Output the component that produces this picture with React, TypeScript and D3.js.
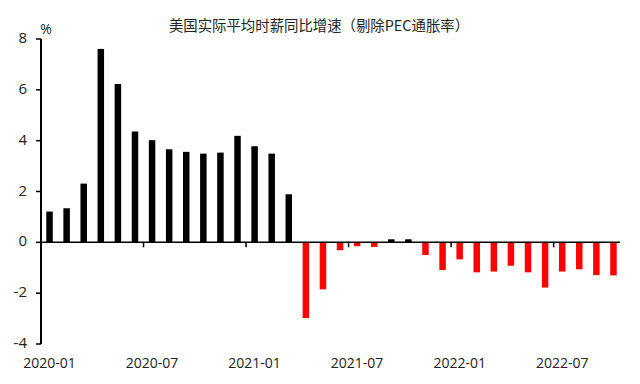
import React from "react";
import * as d3 from "d3";

const months: string[] = [
  "2020-01","2020-02","2020-03","2020-04","2020-05","2020-06","2020-07","2020-08","2020-09","2020-10","2020-11","2020-12",
  "2021-01","2021-02","2021-03","2021-04","2021-05","2021-06","2021-07","2021-08","2021-09","2021-10","2021-11","2021-12",
  "2022-01","2022-02","2022-03","2022-04","2022-05","2022-06","2022-07","2022-08","2022-09","2022-10",
];
const values: number[] = [
  1.21, 1.34, 2.31, 7.61, 6.23, 4.36, 4.02, 3.66, 3.56, 3.49, 3.53, 4.19,
  3.78, 3.49, 1.89, -2.98, -1.85, -0.31, -0.15, -0.18, 0.12, 0.12, -0.5, -1.09,
  -0.67, -1.18, -1.15, -0.92, -1.18, -1.78, -1.15, -1.06, -1.29, -1.3,
];
const xTickLabels: string[] = ["2020-01", "2020-07", "2021-01", "2021-07", "2022-01", "2022-07"];
const yTicks: number[] = [-4, -2, 0, 2, 4, 6, 8];
const title = "美国实际平均时薪同比增速（剔除PEC通胀率）";
const unit = "%";

const W = 640, H = 384;
const left = 41, right = 622, top = 39, bottom = 344;

export default function App() {
  const x = d3.scaleBand<string>().domain(months).range([left, right]).paddingInner(0.62).paddingOuter(0.31);
  const y = d3.scaleLinear().domain([-4, 8]).range([bottom, top]);
  const step = x.step();
  const bandStart = (m: string) => (x(m) as number) - (x.paddingInner() * step) / 2;
  const numFont = "'Open Sans', 'Noto Sans', sans-serif";
  return (
    <svg width={W} height={H} style={{ position: "absolute", left: 0, top: 0 }}>
      <rect width={W} height={H} fill="#fff" />
      <text x={319} y={27} textAnchor="middle" dominantBaseline="middle" fontFamily="'Noto Sans CJK SC', sans-serif" fontSize={14.4} fill="#222">{title}</text>
      <text x={46} y={30} textAnchor="middle" dominantBaseline="middle" fontFamily={numFont} fontSize={14} fill="#222">{unit}</text>
      {months.map((m, i) => {
        const v = values[i];
        const y0 = y(0), y1 = y(v);
        return (
          <rect key={m} x={x(m)} width={x.bandwidth()} y={Math.min(y0, y1)} height={Math.abs(y1 - y0)} fill={v >= 0 ? "#000" : "#ff0000"} />
        );
      })}
      <line x1={left} x2={left} y1={y(8)} y2={y(-4)} stroke="#000" strokeWidth={2} />
      {yTicks.map((t) => (
        <g key={t}>
          <line x1={left - 5} x2={left} y1={y(t)} y2={y(t)} stroke="#000" strokeWidth={1.5} />
          <text x={27} y={y(t)} textAnchor="end" dominantBaseline="middle" fontFamily={numFont} fontSize={15} fill="#222">{t}</text>
        </g>
      ))}
      <line x1={left} x2={right - 2} y1={y(0)} y2={y(0)} stroke="#000" strokeWidth={1.5} />
      {xTickLabels.map((lab) => {
        const bs = bandStart(lab);
        const c = (x(lab) as number) + x.bandwidth() / 2;
        return (
          <g key={lab}>
            {lab !== months[0] && <line x1={bs} x2={bs} y1={y(0)} y2={y(0) + 5} stroke="#000" strokeWidth={1.5} />}
            <text x={c} y={364} textAnchor="middle" dominantBaseline="middle" fontFamily={numFont} fontSize={14} fill="#222">{lab}</text>
          </g>
        );
      })}
    </svg>
  );
}
